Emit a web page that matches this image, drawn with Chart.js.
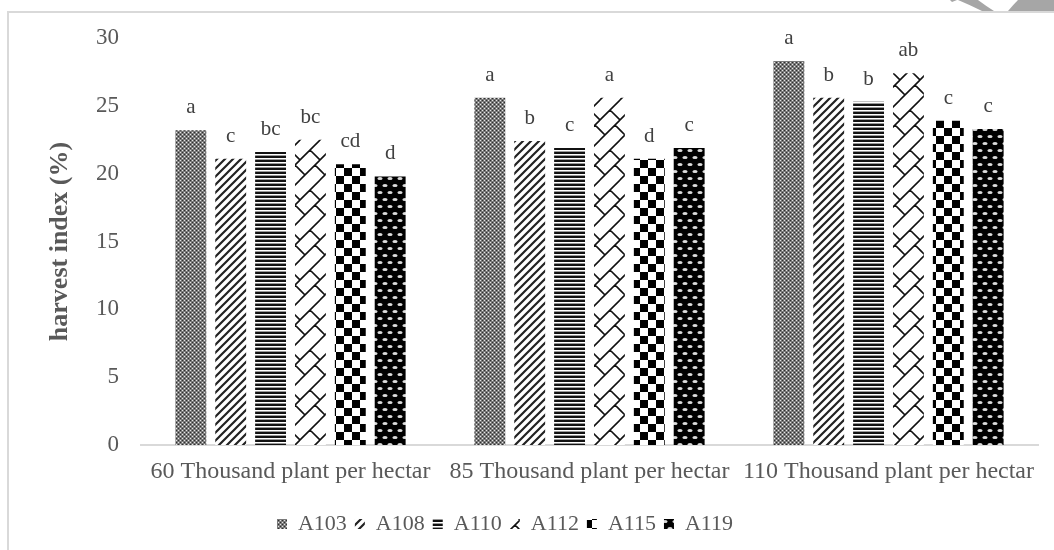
<!DOCTYPE html>
<html>
<head>
<meta charset="utf-8">
<script src="https://cdn.jsdelivr.net/npm/chart.js@4.4.1/dist/chart.umd.min.js"></script>
<style>
body { margin: 0; background: #fff; }
#wrap { position: relative; width: 1054px; height: 550px; overflow: hidden; }
#frame {
    position: absolute; left: 7px; top: 11px; width: 1100px; height: 600px;
    border-left: 2px solid #d9d9d9; border-top: 2px solid #d9d9d9;
    pointer-events: none;
}
#corner { position: absolute; left: 0; top: 0; }
canvas { position: absolute; left: 0; top: 0; }
</style>
</head>
<body>
<div id="wrap">
    <canvas id="chart" width="1054" height="550"></canvas>
    <svg id="corner" width="1054" height="12">
        <polygon points="950,0 957,0 952,2" fill="#a6a6a6"/>
        <path d="M958,0 L978,0 Q986,6 994,11 L982,11 Q970,5 958,0 Z" fill="#a6a6a6"/>
        <path d="M1018,0 L1054,0 L1054,11 L1008,11 Q1013,5 1018,0 Z" fill="#a6a6a6"/>
    </svg>
    <div id="frame"></div>
</div>
<script>
const groups = [
    "60 Thousand plant per hectar",
    "85 Thousand plant per hectar",
    "110 Thousand plant per hectar"
];
const seriesNames = ["A103", "A108", "A110", "A112", "A115", "A119"];

const a103 = [23.2, 25.6, 28.3];
const a108 = [21.1, 22.4, 25.6];
const a110 = [21.6, 21.9, 25.3];
const a112 = [22.5, 25.6, 27.4];
const a115 = [20.7, 21.1, 23.9];
const a119 = [19.8, 21.9, 23.3];

const l103 = ["a", "a", "a"];
const l108 = ["c", "b", "b"];
const l110 = ["bc", "c", "b"];
const l112 = ["bc", "a", "ab"];
const l115 = ["cd", "d", "c"];
const l119 = ["d", "c", "c"];

const yTicks = [0, 5, 10, 15, 20, 25, 30];

// small tiles used as fill patterns
function tile(w, h, draw) {
    const c = document.createElement("canvas");
    c.width = w;
    c.height = h;
    const g = c.getContext("2d");
    draw(g);
    return document.getElementById("chart").getContext("2d").createPattern(c, "repeat");
}

const patDots = tile(4, 4, g => {
    g.fillStyle = "#7a7a7a";
    g.fillRect(0, 0, 4, 4);
    g.fillStyle = "#e6e6e6";
    g.fillRect(0, 0, 1, 1);
    g.fillRect(2, 2, 1, 1);
    g.fillStyle = "#2e2e2e";
    g.fillRect(2, 0, 1, 1);
    g.fillRect(0, 2, 1, 1);
});

const patDiag = tile(8, 8, g => {
    g.fillStyle = "#fff";
    g.fillRect(0, 0, 8, 8);
    g.strokeStyle = "#222";
    g.lineWidth = 2.2;
    g.beginPath();
    g.moveTo(-1, 9); g.lineTo(9, -1);
    g.moveTo(-2, 2); g.lineTo(2, -2);
    g.moveTo(6, 10); g.lineTo(10, 6);
    g.stroke();
});

const patHoriz = tile(4, 4, g => {
    g.fillStyle = "#fff";
    g.fillRect(0, 0, 4, 4);
    g.fillStyle = "#111";
    g.fillRect(0, 0, 4, 2);
    g.fillStyle = "#999";
    g.fillRect(0, 3, 4, 1);
});

// diagonal brick: "/" strokes joined by staggered "\" steps
const patBrick = tile(20, 40, g => {
    g.fillStyle = "#fff";
    g.fillRect(0, 0, 20, 40);
    g.strokeStyle = "#111";
    g.lineWidth = 1.6;
    const segs = [
        [0, 20, 20, 0],
        [0, 40, 20, 20],
        [0, 60, 20, 40],
        [0, 0, 20, -20],
        [15, 5, 25, 15],
        [10, 30, 20, 40]
    ];
    g.beginPath();
    for (const dx of [-20, 0, 20]) {
        for (const dy of [-40, 0, 40]) {
            for (const s of segs) {
                g.moveTo(s[0] + dx, s[1] + dy);
                g.lineTo(s[2] + dx, s[3] + dy);
            }
        }
    }
    g.stroke();
});

const patCheck = tile(16, 16, g => {
    g.fillStyle = "#fff";
    g.fillRect(0, 0, 16, 16);
    g.fillStyle = "#000";
    g.fillRect(0, 0, 8, 8);
    g.fillRect(8, 8, 8, 8);
});

const patOval = tile(10, 14, g => {
    g.fillStyle = "#000";
    g.fillRect(0, 0, 10, 14);
    g.fillStyle = "#dcdcdc";
    g.beginPath();
    g.ellipse(5, 3.5, 2.6, 1.5, 0, 0, Math.PI * 2);
    g.fill();
    g.beginPath();
    g.ellipse(0, 10.5, 2.6, 1.5, 0, 0, Math.PI * 2);
    g.ellipse(10, 10.5, 2.6, 1.5, 0, 0, Math.PI * 2);
    g.fill();
});

const values = [a103, a108, a110, a112, a115, a119];
const letters = [l103, l108, l110, l112, l115, l119];
const fills = [patDots, patDiag, patHoriz, patBrick, patCheck, patOval];

Chart.defaults.font.family = "'Liberation Serif', 'Times New Roman', serif";
Chart.defaults.color = "#595959";

const letterPlugin = {
    id: "letters",
    afterDatasetsDraw(chart) {
        const ctx = chart.ctx;
        ctx.save();
        ctx.font = "21px 'Liberation Serif'";
        ctx.fillStyle = "#404040";
        ctx.textAlign = "center";
        ctx.textBaseline = "alphabetic";
        chart.data.datasets.forEach((ds, i) => {
            chart.getDatasetMeta(i).data.forEach((bar, j) => {
                ctx.fillText(ds.letters[j], bar.x, bar.y - 17);
            });
        });
        ctx.restore();
    }
};

// legend sits a little left of the canvas centre in the original
const legendShift = {
    id: "legendShift",
    afterLayout(chart) {
        chart.legend.left -= 14;
        chart.legend.right -= 14;
    }
};

new Chart(document.getElementById("chart"), {
    type: "bar",
    data: {
        labels: groups,
        datasets: seriesNames.map((name, i) => ({
            label: name,
            data: values[i],
            letters: letters[i],
            backgroundColor: fills[i],
            borderWidth: 0,
            categoryPercentage: 0.8,
            barPercentage: 0.775
        }))
    },
    options: {
        responsive: false,
        animation: false,
        layout: { padding: { top: 38, right: 16, bottom: 5, left: 0 } },
        plugins: {
            legend: {
                position: "bottom",
                labels: {
                    boxWidth: 10,
                    boxHeight: 10,
                    padding: 8,
                    font: { size: 22 },
                    color: "#595959"
                }
            },
            tooltip: { enabled: false }
        },
        scales: {
            x: {
                grid: { display: false, drawTicks: false },
                border: { color: "#d9d9d9", width: 2 },
                ticks: { font: { size: 24 }, padding: 12, color: "#595959" },
                afterFit(scale) { scale.height = 60; }
            },
            y: {
                min: 0,
                max: 30,
                grid: { display: false, drawTicks: false },
                border: { display: false },
                afterBuildTicks(scale) {
                    scale.ticks = yTicks.map(v => ({ value: v }));
                },
                ticks: { font: { size: 23 }, padding: 22, color: "#595959" },
                title: {
                    display: true,
                    text: "harvest index (%)",
                    font: { size: 26, weight: "bold" },
                    color: "#595959",
                    padding: { top: 45 }
                },
                afterFit(scale) { scale.width = 141; }
            }
        }
    },
    plugins: [letterPlugin, legendShift]
});
</script>
</body>
</html>
